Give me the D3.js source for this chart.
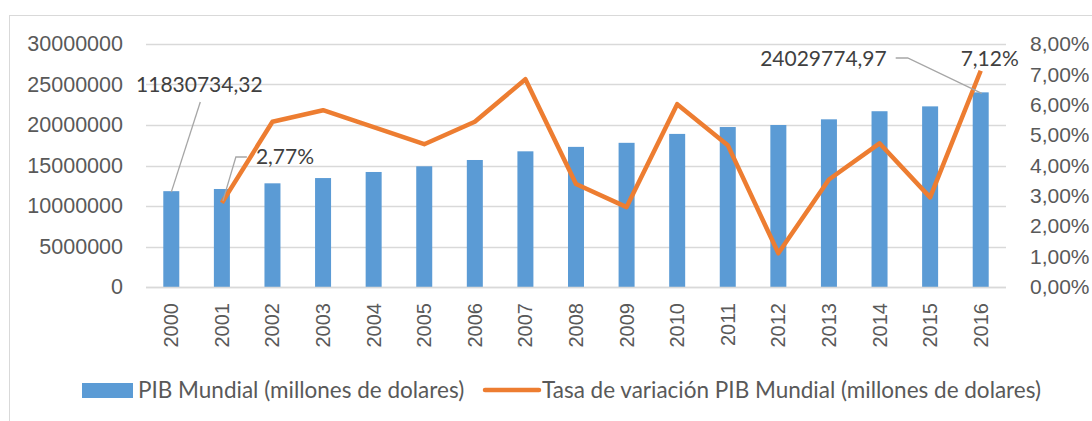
<!DOCTYPE html>
<html>
<head>
<meta charset="utf-8">
<script src="https://cdn.jsdelivr.net/npm/d3@7"></script>
<style>
  body { margin: 0; background: #fff; }
  svg { font-family: Lato, "Open Sans", sans-serif; }
</style>
</head>
<body>
<div id="plot"></div>
<script>
// Values
var years = ["2000","2001","2002","2003","2004","2005","2006","2007","2008",
             "2009","2010","2011","2012","2013","2014","2015","2016"];
var pib = [11830734.32, 12100000, 12800000, 13450000, 14200000, 14900000, 15680000,
           16750000, 17300000, 17800000, 18900000, 19750000, 20000000, 20700000,
           21700000, 22300000, 24029774.97];
// growth rate, first year has no value
var tasa = [null, 2.77, 5.44, 5.82, 5.26, 4.70, 5.44, 6.84, 3.39, 2.63, 6.02,
            4.67, 1.11, 3.54, 4.73, 2.95, 7.12];
var leftTicks = [0, 5000000, 10000000, 15000000, 20000000, 25000000, 30000000];
var rightTicks = [0, 1, 2, 3, 4, 5, 6, 7, 8];

var W = 1092, H = 421;
var margin = {top: 44, left: 146, right: 86, bottom: 134};
var width = W - margin.left - margin.right,
    height = H - margin.top - margin.bottom;

var svg = d3.select("#plot").append("svg")
    .attr("width", W).attr("height", H);

// chart border (only top and left show in the picture)
svg.append("rect")
    .attr("x", 9.5).attr("y", 15.5)
    .attr("width", W + 10).attr("height", H + 10)
    .attr("fill", "none").attr("stroke", "#d9d9d9");

var g = svg.append("g")
    .attr("transform", "translate(" + margin.left + "," + margin.top + ")");

var x = d3.scaleBand().domain(years).range([0, width]);
var y = d3.scaleLinear().domain([0, 30000000]).range([height, 0]);
var y2 = d3.scaleLinear().domain([0, 8]).range([height, 0]);

var comma = function (v) { return d3.format(".2f")(v).replace(".", ","); };

// gridlines
g.append("g")
    .selectAll("line")
    .data(leftTicks)
    .enter()
    .append("line")
    .attr("x1", 0).attr("x2", width)
    .attr("y1", function (d) { return Math.round(y(d)) + 0.5; })
    .attr("y2", function (d) { return Math.round(y(d)) + 0.5; })
    .attr("stroke", "#d9d9d9").attr("stroke-width", 1.5);

// left axis
var ax = g.append("g")
    .call(d3.axisLeft(y).tickValues(leftTicks).tickSize(0).tickPadding(23)
        .tickFormat(d3.format("d")));
ax.select(".domain").remove();
ax.selectAll("text").attr("fill", "#595959").style("font-size", "21.5px");

// right axis
var ax2 = g.append("g")
    .attr("transform", "translate(" + width + ",0)")
    .call(d3.axisRight(y2).tickValues(rightTicks).tickSize(0).tickPadding(24)
        .tickFormat(function (d) { return comma(d) + "%"; }));
ax2.select(".domain").remove();
ax2.selectAll("text").attr("fill", "#595959").style("font-size", "21px");

// bottom axis
var bx = g.append("g")
    .attr("transform", "translate(0," + height + ")")
    .call(d3.axisBottom(x).tickSize(0).tickPadding(0));
bx.select(".domain").remove();
bx.selectAll("text")
    .attr("fill", "#595959").style("font-size", "20px")
    .attr("transform", "rotate(-90)")
    .attr("text-anchor", "end")
    .attr("x", -16).attr("y", 0).attr("dy", "0.35em");

// bars
var bw = 16;
g.append("g")
    .selectAll("rect")
    .data(pib)
    .enter()
    .append("rect")
    .attr("x", function (d, i) { return x(years[i]) + x.bandwidth() / 2 - bw / 2; })
    .attr("y", function (d) { return y(d); })
    .attr("width", bw)
    .attr("height", function (d) { return height - y(d); })
    .attr("fill", "#5b9bd5");

// category axis line over bars
g.append("line")
    .attr("x1", 0).attr("x2", width)
    .attr("y1", height + 0.5).attr("y2", height + 0.5)
    .attr("stroke", "#d9d9d9").attr("stroke-width", 1.5);

// line series
var line = d3.line()
    .defined(function (d) { return d !== null; })
    .x(function (d, i) { return x(years[i]) + x.bandwidth() / 2; })
    .y(function (d) { return y2(d); });

g.append("path")
    .datum(tasa)
    .attr("d", line)
    .attr("fill", "none")
    .attr("stroke", "#ed7d31")
    .attr("stroke-width", 4.5)
    .attr("stroke-linejoin", "round");

// data labels with leader lines
function cx(i) { return x(years[i]) + x.bandwidth() / 2; }
var labels = g.append("g").attr("fill", "#404040").style("font-size", "21px");
var leader = g.append("g").attr("fill", "none").attr("stroke", "#a6a6a6").attr("stroke-width", 1.3);

// 2000 bar
labels.append("text").attr("x", cx(0) + 28).attr("y", 48).attr("text-anchor", "middle")
    .text(comma(pib[0]));
leader.append("polyline")
    .attr("points", [[cx(0) + 29, 58], [cx(0), y(pib[0]) + 1]].join(" "));

// 2001 rate
labels.append("text").attr("x", cx(1) + 34).attr("y", 120)
    .text(comma(tasa[1]) + "%");
leader.append("polyline")
    .attr("points", [[cx(1) + 25, 113], [cx(1) + 14, 113], [cx(1) + 1, y2(tasa[1]) - 2]].join(" "));

// 2016 bar
labels.append("text").attr("x", cx(16) - 94).attr("y", 22).attr("text-anchor", "end")
    .text(comma(pib[16]));
leader.append("polyline")
    .attr("points", [[cx(16) - 85, 14], [cx(16) - 73, 14], [cx(16) + 1, y(pib[16]) + 1]].join(" "));

// 2016 rate
labels.append("text").attr("x", cx(16) + 9).attr("y", 22).attr("text-anchor", "middle")
    .text(comma(tasa[16]) + "%");

// legend
var lg = svg.append("g").attr("transform", "translate(0,390)").style("font-size", "22.5px").attr("fill", "#595959");
lg.append("rect").attr("x", 82).attr("y", -7).attr("width", 51).attr("height", 15).attr("fill", "#5b9bd5");
lg.append("text").attr("x", 138).attr("y", 0).attr("dy", "0.35em").text("PIB Mundial (millones de dolares)");
lg.append("line").attr("x1", 485).attr("x2", 539).attr("y1", 0).attr("y2", 0)
    .attr("stroke", "#ed7d31").attr("stroke-width", 4.5).attr("stroke-linecap", "round");
lg.append("text").attr("x", 542).attr("y", 0).attr("dy", "0.35em")
    .text("Tasa de variación PIB Mundial (millones de dolares)");
</script>
</body>
</html>
